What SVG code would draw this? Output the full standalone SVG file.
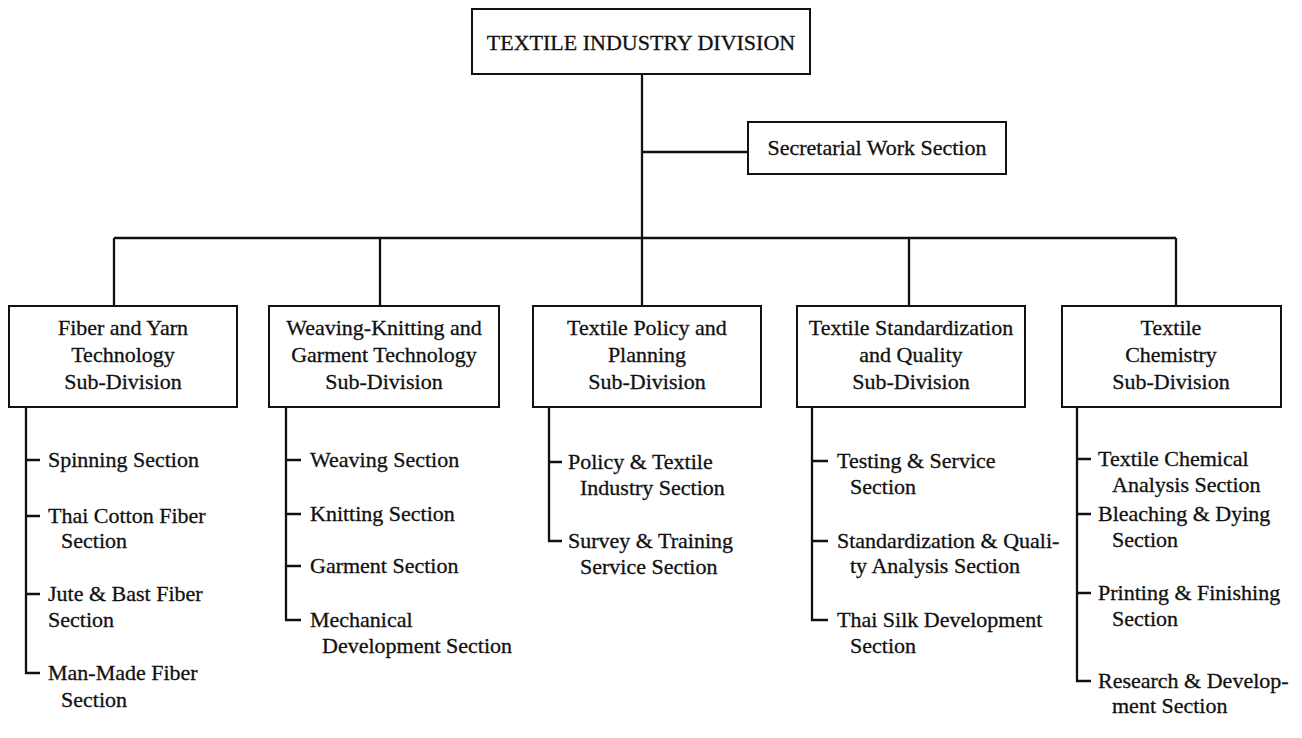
<svg xmlns="http://www.w3.org/2000/svg" width="1302" height="738" viewBox="0 0 1302 738">
  <style>
    .box { fill: #ffffff; stroke: #111111; stroke-width: 2; }
    .ln { fill: none; stroke: #111111; stroke-width: 2.3; }
    .t { font-family: "Liberation Serif", "Times New Roman", serif; font-size: 22px; fill: #111111; stroke: #111111; stroke-width: 0.3; }
    .c { text-anchor: middle; }
  </style>
  <rect width="1302" height="738" fill="#ffffff"/>

  <!-- connectors -->
  <g id="connectors" class="ln">
    <path d="M642 74 V306"/>
    <path d="M642 152 H748"/>
    <path d="M114 238 H1176"/>
    <path d="M114 238 V306 M380 238 V306 M909 238 V306 M1176 238 V306"/>
    <!-- fiber and yarn sections -->
    <path d="M26 407 V673 H40 M26 460 H40 M26 516 H40 M26 594 H40"/>
    <!-- weaving-knitting sections -->
    <path d="M286 407 V620 H301 M286 460 H301 M286 514 H301 M286 566 H301"/>
    <!-- policy sections -->
    <path d="M549 407 V541 H562 M549 462 H562"/>
    <!-- standardization sections -->
    <path d="M812 407 V620 H828 M812 461 H828 M812 541 H828"/>
    <!-- chemistry sections -->
    <path d="M1077 407 V681 H1091 M1077 459 H1091 M1077 514 H1091 M1077 593 H1091"/>
  </g>

  <g id="division">
    <rect class="box" x="472" y="9" width="338" height="65"/>
    <text class="t c" x="641" y="50">TEXTILE INDUSTRY DIVISION</text>
  </g>

  <g id="secretarial">
    <rect class="box" x="748" y="122" width="258" height="52"/>
    <text class="t c" x="877" y="155">Secretarial Work Section</text>
  </g>

  <g id="fiber-yarn">
    <rect class="box" x="9" y="306" width="228" height="101"/>
    <text class="t c" x="123" y="335">Fiber and Yarn</text>
    <text class="t c" x="123" y="362">Technology</text>
    <text class="t c" x="123" y="389">Sub-Division</text>
  </g>

  <g id="weaving-knitting">
    <rect class="box" x="269" y="306" width="230" height="101"/>
    <text class="t c" x="384" y="335">Weaving-Knitting and</text>
    <text class="t c" x="384" y="362">Garment Technology</text>
    <text class="t c" x="384" y="389">Sub-Division</text>
  </g>

  <g id="policy-planning">
    <rect class="box" x="533" y="306" width="228" height="101"/>
    <text class="t c" x="647" y="335">Textile Policy and</text>
    <text class="t c" x="647" y="362">Planning</text>
    <text class="t c" x="647" y="389">Sub-Division</text>
  </g>

  <g id="standardization-quality">
    <rect class="box" x="797" y="306" width="228" height="101"/>
    <text class="t c" x="911" y="335">Textile Standardization</text>
    <text class="t c" x="911" y="362">and Quality</text>
    <text class="t c" x="911" y="389">Sub-Division</text>
  </g>

  <g id="chemistry">
    <rect class="box" x="1062" y="306" width="219" height="101"/>
    <text class="t c" x="1171" y="335">Textile</text>
    <text class="t c" x="1171" y="362">Chemistry</text>
    <text class="t c" x="1171" y="389">Sub-Division</text>
  </g>

  <g id="spinning"><text class="t" x="48" y="467">Spinning Section</text></g>
  <g id="thai-cotton">
    <text class="t" x="48" y="523">Thai Cotton Fiber</text>
    <text class="t" x="61" y="548">Section</text>
  </g>
  <g id="jute-bast">
    <text class="t" x="48" y="601">Jute &amp; Bast Fiber</text>
    <text class="t" x="48" y="627">Section</text>
  </g>
  <g id="man-made">
    <text class="t" x="48" y="680">Man-Made Fiber</text>
    <text class="t" x="61" y="707">Section</text>
  </g>

  <g id="weaving"><text class="t" x="310" y="467">Weaving Section</text></g>
  <g id="knitting"><text class="t" x="310" y="521">Knitting Section</text></g>
  <g id="garment"><text class="t" x="310" y="573">Garment Section</text></g>
  <g id="mechanical">
    <text class="t" x="310" y="627">Mechanical</text>
    <text class="t" x="322" y="653">Development Section</text>
  </g>

  <g id="policy-industry">
    <text class="t" x="568" y="469">Policy &amp; Textile</text>
    <text class="t" x="580" y="495">Industry Section</text>
  </g>
  <g id="survey-training">
    <text class="t" x="568" y="548">Survey &amp; Training</text>
    <text class="t" x="580" y="574">Service Section</text>
  </g>

  <g id="testing-service">
    <text class="t" x="837" y="468">Testing &amp; Service</text>
    <text class="t" x="850" y="494">Section</text>
  </g>
  <g id="quality-analysis">
    <text class="t" x="837" y="548">Standardization &amp; Quali-</text>
    <text class="t" x="850" y="573">ty Analysis Section</text>
  </g>
  <g id="thai-silk">
    <text class="t" x="837" y="627">Thai Silk Development</text>
    <text class="t" x="850" y="653">Section</text>
  </g>

  <g id="chemical-analysis">
    <text class="t" x="1098" y="466">Textile Chemical</text>
    <text class="t" x="1112" y="492">Analysis Section</text>
  </g>
  <g id="bleaching-dying">
    <text class="t" x="1098" y="521">Bleaching &amp; Dying</text>
    <text class="t" x="1112" y="547">Section</text>
  </g>
  <g id="printing-finishing">
    <text class="t" x="1098" y="600">Printing &amp; Finishing</text>
    <text class="t" x="1112" y="626">Section</text>
  </g>
  <g id="research-development">
    <text class="t" x="1098" y="688">Research &amp; Develop-</text>
    <text class="t" x="1112" y="713">ment Section</text>
  </g>
</svg>
